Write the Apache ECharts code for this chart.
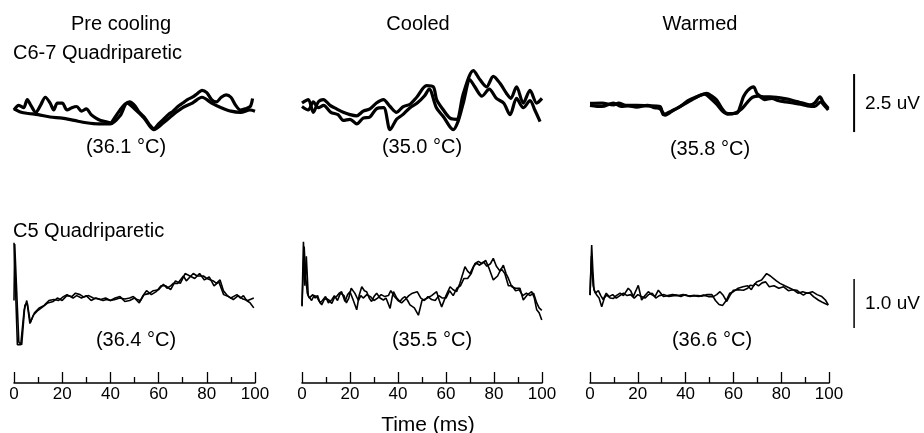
<!DOCTYPE html>
<html>
<head>
<meta charset="utf-8">
<script src="https://cdn.jsdelivr.net/npm/echarts@6/dist/echarts.min.js"></script>
<style>html,body{margin:0;padding:0;background:#fff}#c{width:924px;height:433px}</style>
</head>
<body>
<div id="c"></div>
<script>
// ---- text ----
const columnTitles = ['Pre cooling', 'Cooled', 'Warmed'];
const rowTitles = ['C6-7 Quadriparetic', 'C5 Quadriparetic'];
const tempsTop = ['(36.1 °C)', '(35.0 °C)', '(35.8 °C)'];
const tempsBottom = ['(36.4 °C)', '(35.5 °C)', '(36.6 °C)'];
const scaleLabels = ['2.5 uV', '1.0 uV'];
const scaleValues = [2.5, 1.0];
const timeLabel = 'Time (ms)';

// ---- traces: [time ms, amplitude uV] ----
const top1A = [[0,0.0],[2,0.2],[4,0.1],[5.5,0.45],[7,0.2],[9,-0.1],[11,0.2],[13,0.55],[15,0.3],[16.5,0.0],[18,0.3],[20,0.3],[22,0.0],[24,0.1],[26,0.15],[28,-0.05],[30,0.05],[32,-0.2],[34,-0.35],[36,-0.45],[38,-0.5],[40,-0.55],[42,-0.3],[44,0.0],[46,0.25],[48,0.35],[50,0.2],[52,-0.1],[54,-0.3],[56,-0.6],[58,-0.8],[60,-0.6],[62,-0.4],[64,-0.2],[66,-0.05],[68,0.15],[70,0.3],[72,0.45],[74,0.55],[76,0.7],[78,0.85],[80,0.75],[82,0.45],[84,0.35],[86,0.55],[88,0.65],[90,0.55],[92,0.2],[94,0.0],[96,0.05],[98,0.15],[99,0.5]];
const top1B = [[0,0.05],[3,-0.1],[6,-0.15],[10,-0.2],[15,-0.3],[20,-0.35],[25,-0.45],[30,-0.55],[35,-0.6],[40,-0.6],[44,-0.25],[47,0.3],[50,0.05],[54,-0.35],[58,-0.85],[62,-0.55],[66,-0.2],[70,0.1],[74,0.3],[78,0.55],[82,0.3],[86,0.1],[90,-0.05],[94,-0.1],[98,0.0],[100,-0.05]];
const top2A = [[0,0.3],[2.6,0.45],[4.7,-0.1],[6.8,0.35],[8.9,0.45],[11.7,0.2],[14.4,0.05],[17.2,-0.1],[20,-0.2],[22.8,-0.25],[25.5,-0.05],[28.3,0.05],[31,0.3],[33.9,0.45],[36.7,0.15],[39.4,-0.1],[42.2,0.15],[45,0.25],[47.8,0.55],[51.9,1.05],[54.7,1.0],[56.1,0.45],[58.9,0.0],[61.7,-0.35],[64.4,-0.4],[67.2,0.7],[71.4,1.7],[74.2,1.3],[76.9,1.0],[79.7,1.45],[82.5,1.15],[85.3,0.7],[87,0.5],[89.4,1.0],[92.2,0.3],[95,0.85],[97.8,0.3],[100,0.5]];
const top2B = [[0,0.15],[2.6,0.0],[4.7,0.35],[6.8,0.1],[9,0.2],[12,-0.1],[15,-0.2],[17.2,-0.45],[20,-0.4],[22.8,-0.6],[25.5,-0.35],[28.3,-0.3],[31,0.05],[34,0.1],[36.7,-0.85],[39.4,-0.4],[42,-0.2],[45,0.1],[48,0.3],[51,0.6],[53,0.9],[56,0.1],[59,-0.3],[63,-0.85],[65,-0.5],[67.2,0.3],[70,1.3],[72,1.0],[75,0.6],[78,0.9],[81,0.5],[84,0.3],[86.7,-0.2],[89.4,0.5],[92.2,0.1],[95,0.4],[97,0.0],[99.2,-0.5]];
const top3A = [[0,0.29],[5,0.3],[9.8,0.22],[12,0.3],[15,0.2],[19.5,0.2],[24,0.18],[29.3,0.15],[30.7,-0.2],[34,-0.05],[37.7,0.14],[41,0.4],[44.6,0.57],[48.8,0.72],[51,0.6],[53,0.43],[55,0.1],[57.2,-0.14],[59,-0.15],[61.4,-0.14],[63,0.2],[64.2,0.57],[66,0.85],[68.4,1.0],[70,0.7],[72.5,0.57],[75.3,0.57],[78,0.55],[80.9,0.5],[83.5,0.45],[86.5,0.36],[89,0.3],[92,0.22],[94,0.3],[96.2,0.57],[97.5,0.35],[99.7,0.07]];
const top3B = [[0,0.2],[5,0.15],[9.8,0.3],[13,0.15],[16,0.18],[19.5,0.12],[24,0.2],[27,0.1],[29.3,0.05],[31.5,-0.22],[35,0.0],[38.5,0.2],[42,0.4],[45.5,0.6],[48,0.68],[50.5,0.5],[53,0.25],[55.5,-0.05],[58,-0.18],[61,-0.12],[63.5,0.05],[66,0.35],[68,0.55],[70.5,0.6],[73,0.45],[76,0.5],[79,0.4],[82,0.35],[85,0.3],[88,0.25],[91,0.18],[94,0.15],[96.5,0.35],[98,0.2],[99.7,0.0]];

const bot1A = [[0,1.18],[0.6,1.18],[1.4,-0.9],[2.8,-0.9],[4.2,-0.2],[5.3,0.0],[6.6,-0.47],[8.0,-0.3],[10,-0.2],[12.2,-0.12],[14,-0.05],[16.3,-0.02],[18,0.05],[20,0.0],[21.9,0.1],[24,0.08],[25.5,0.15],[27.4,0.12],[29,0.07],[31,0.1],[32.9,0.05],[35,0.03],[37,0.0],[38.4,0.02],[40,0.0],[42,0.02],[43.9,0.05],[46,0.03],[48,0.05],[49.5,0.08],[51,0.02],[52.5,0.0],[54,0.12],[56,0.14],[57.8,0.2],[60,0.22],[62,0.33],[63.5,0.25],[65,0.3],[66.1,0.35],[68,0.35],[70.3,0.5],[71.5,0.4],[73,0.48],[74.4,0.55],[76,0.5],[78.6,0.5],[80,0.45],[82.7,0.4],[84,0.35],[85.5,0.42],[86.9,0.2],[88.5,0.1],[90,0.05],[91,0.08],[92.5,0.12],[94,0.05],[95.2,0.1],[96.5,0.0],[98,-0.05],[99.5,-0.15]];
const bot1B = [[0,0.0],[0.3,1.15],[1.0,1.15],[2.0,-0.85],[3.2,-0.9],[4.5,-0.1],[5.5,-0.05],[6.8,-0.45],[8.5,-0.25],[10.5,-0.15],[12.5,-0.1],[14.5,0.0],[16.5,0.02],[18.5,0.0],[20.5,0.08],[22,0.12],[24.5,0.05],[26,0.1],[28,0.05],[30,0.1],[32,0.0],[34,0.05],[36,0.02],[38,0.05],[40,0.0],[42,0.05],[44,0.08],[46,-0.02],[48,0.0],[50,0.05],[52,-0.05],[53.5,0.1],[55,0.2],[57,0.12],[59,0.18],[61,0.3],[63,0.3],[65,0.22],[67,0.4],[69,0.35],[71,0.55],[73,0.5],[75,0.45],[77,0.55],[79,0.42],[81,0.48],[83,0.3],[85,0.38],[87,0.12],[89,0.08],[91,0.02],[93,0.1],[95,0.03],[97,0.0],[99.5,0.05]];
const bot2A = [[0,-0.1],[0.6,1.2],[1.2,0.3],[1.8,0.9],[2.6,0.1],[4,0.0],[5,0.1],[6.1,0.08],[7,0.0],[8.2,-0.09],[9.3,0.02],[10.3,0.04],[11.4,0.0],[12.4,-0.06],[13.4,0.05],[14.4,0.08],[15.5,0.15],[16.5,0.18],[17.9,-0.02],[19,0.12],[20,0.18],[21.4,0.0],[22.8,-0.19],[23.8,0.1],[24.9,0.28],[26,0.2],[26.9,0.18],[28,0.05],[29,-0.02],[30,0.08],[31.1,0.15],[32.5,0.05],[33.9,0.01],[35,0.05],[36.7,-0.16],[37.5,0.05],[38.1,0.18],[39.5,0.05],[40.8,-0.02],[42,0.05],[42.9,0.08],[44,0.0],[45,-0.09],[46.8,-0.15],[48.5,-0.3],[50,0.0],[51.9,0.04],[54,0.1],[56.1,0.18],[57.2,0.0],[58.2,-0.13],[60,0.1],[61.7,0.28],[63,0.22],[64.4,0.18],[65.8,0.35],[67.9,0.69],[69,0.6],[70,0.55],[71.5,0.7],[72.8,0.76],[74,0.72],[75.6,0.79],[77,0.7],[78.5,0.75],[79.7,0.86],[81,0.7],[82.5,0.6],[83.9,0.72],[85,0.55],[86,0.45],[87.4,0.28],[89,0.25],[90.8,0.25],[92.2,0.01],[94,0.12],[95.7,0.18],[96.8,0.05],[97.8,-0.19],[98.8,-0.25],[99.9,-0.4]];
const bot2B = [[0,-0.12],[0.9,1.1],[1.5,0.5],[2.2,0.15],[3,0.05],[4.5,0.12],[5.5,0.05],[6.5,0.1],[7.5,-0.05],[8.5,0.0],[9.8,0.08],[11,-0.05],[12.5,0.02],[13.5,0.1],[14.8,0.0],[16,0.15],[17.5,0.1],[18.5,-0.05],[19.5,0.05],[20.5,0.25],[22,0.15],[23.5,0.0],[24.5,0.1],[25.5,0.05],[27,0.12],[28.5,0.08],[30,0.0],[31.5,0.05],[33,0.12],[34.5,0.08],[36,0.1],[37,0.2],[38.5,0.08],[40,0.0],[41.5,-0.05],[43,0.02],[44.5,0.1],[46,0.15],[48,0.18],[49.5,0.05],[51,0.0],[52.5,0.08],[54,0.02],[55.5,0.0],[57,0.1],[58.5,0.05],[60,0.05],[61.5,0.2],[63,0.1],[64.5,0.25],[66,0.3],[67.5,0.45],[69,0.45],[70.5,0.55],[72,0.75],[73.5,0.8],[75,0.75],[76.5,0.82],[78,0.65],[79.7,0.42],[81.5,0.5],[83,0.65],[84.5,0.55],[86,0.3],[87.5,0.3],[89,0.2],[90.5,0.22],[92,0.1],[93.5,0.15],[95,0.1],[96.5,0.15],[97.8,-0.05],[98.8,-0.15],[99.9,-0.2]];
const bot3A = [[0,0.11],[0.7,1.13],[1.2,0.6],[1.7,0.21],[2.8,0.11],[3.8,0.05],[4.9,-0.13],[6,0.05],[7,0.11],[8.5,0.05],[9.8,0.04],[11,0.1],[12.6,0.15],[14,0.1],[16,0.25],[17,0.2],[18.1,0.08],[19.2,0.2],[20.2,0.31],[21.6,0.01],[23,0.1],[24.4,0.18],[25.8,0.12],[27.2,0.08],[28.6,0.21],[30.7,0.08],[32.5,0.1],[34.5,0.12],[36.3,0.11],[38,0.08],[40,0.12],[41.8,0.08],[43.5,0.1],[45.5,0.08],[47.4,0.11],[49.5,0.08],[51.6,0.08],[53,0.12],[54.4,0.18],[55.8,0.1],[57.2,-0.02],[58.5,0.1],[60,0.21],[62,0.22],[64.2,0.21],[66,0.25],[67,0.31],[68.5,0.3],[69.7,0.38],[71.8,0.42],[73.9,0.55],[75.5,0.5],[76.7,0.45],[78,0.4],[79.5,0.35],[81.5,0.3],[83.7,0.25],[85,0.22],[86.5,0.21],[88,0.15],[89.3,0.11],[90.5,0.15],[92,0.15],[93.5,0.08],[95.5,0.01],[97,-0.03],[98.3,-0.06],[99.7,-0.09]];
const bot3B = [[0,0.11],[0.6,0.9],[1.3,0.3],[2.2,0.15],[3.5,0.2],[4.5,0.1],[5.5,0.02],[6.8,0.15],[8,0.08],[9.5,0.12],[11,0.05],[12.5,0.1],[14,0.15],[15.5,0.1],[17,0.12],[18.5,0.05],[20,0.12],[21.5,0.08],[23,0.05],[24.5,0.12],[26,0.15],[27.5,0.05],[29,0.1],[31,0.12],[33,0.08],[35,0.1],[37,0.1],[39,0.12],[41,0.09],[43,0.1],[45,0.1],[47,0.09],[49,0.12],[51,0.12],[52.5,0.0],[54,-0.08],[55.5,-0.1],[57,0.0],[58.5,0.15],[60,0.18],[62,0.25],[64,0.28],[66,0.3],[67.5,0.22],[69,0.35],[70.5,0.3],[72,0.36],[73.5,0.38],[75,0.28],[77,0.3],[79,0.25],[81,0.28],[83,0.2],[85,0.22],[87,0.15],[89,0.18],[91,0.15],[93,0.18],[95,0.12],[97,0.08],[98.5,0.01],[99.7,-0.09]];

const topTraces = [[top1A, top1B], [top2A, top2B], [top3A, top3B]];
const botTraces = [[bot1A, bot1B], [bot2A, bot2B], [bot3A, bot3B]];

// ---- layout ----
const FONT = '"Liberation Sans", Arial, sans-serif';
const panelLeft = [14, 302, 590];
const panelW = [241, 240, 239];
const topRow = {top: 52, height: 116, min: -2.5, max: 2.5};
const botRow = {top: 227, height: 147, min: -1.5, max: 1.5};
const scaleX = 110.5;
const scaleBase = [-0.95, -0.56];

const grids = [], xAxes = [], yAxes = [], series = [];
function addGrid(g, xmax, ymin, ymax, showX) {
  grids.push(g);
  const i = grids.length - 1;
  xAxes.push(showX ? {
    gridIndex: i, type: 'value', min: 0, max: 100, interval: 20,
    axisLine: {show: true, lineStyle: {color: '#000', width: 1.5}},
    axisTick: {show: true, inside: true, length: 11, lineStyle: {color: '#000', width: 1.3}},
    minorTick: {show: true, splitNumber: 2, length: 6, lineStyle: {color: '#000', width: 1.3}},
    axisLabel: {color: '#000', fontSize: 17, fontFamily: FONT, margin: 3},
    splitLine: {show: false}, minorSplitLine: {show: false}
  } : {gridIndex: i, type: 'value', min: 0, max: xmax, show: false, splitLine: {show: false}});
  yAxes.push({gridIndex: i, type: 'value', min: ymin, max: ymax, show: false, splitLine: {show: false}});
  return i;
}
for (let c = 0; c < 3; c++) {
  const xmax = c === 2 ? 120 : 100;
  const w = panelW[c] * xmax / 100;
  const gi = addGrid({left: panelLeft[c], top: topRow.top, width: w, height: topRow.height}, xmax, topRow.min, topRow.max, false);
  topTraces[c].forEach(d => series.push({type: 'line', xAxisIndex: gi, yAxisIndex: gi, data: d, showSymbol: false, symbol: 'none', smooth: 0.3,
    lineStyle: {color: '#000', width: 3.2}, z: 3}));
  if (c === 2) series.push({type: 'line', xAxisIndex: gi, yAxisIndex: gi, symbol: 'none',
    data: [[scaleX, scaleBase[0]], [scaleX, scaleBase[0] + scaleValues[0]]], lineStyle: {color: '#000', width: 2}});
}
for (let c = 0; c < 3; c++) {
  const xmax = c === 2 ? 120 : 100;
  const w = panelW[c] * xmax / 100;
  const gi = addGrid({left: panelLeft[c], top: botRow.top, width: w, height: botRow.height}, xmax, botRow.min, botRow.max, false);
  botTraces[c].forEach(d => series.push({type: 'line', xAxisIndex: gi, yAxisIndex: gi, data: d, showSymbol: false, symbol: 'none',
    lineStyle: {color: '#000', width: 1.6}, z: 3}));
  if (c === 2) series.push({type: 'line', xAxisIndex: gi, yAxisIndex: gi, symbol: 'none',
    data: [[scaleX, scaleBase[1]], [scaleX, scaleBase[1] + scaleValues[1]]], lineStyle: {color: '#000', width: 1.5}});
}
for (let c = 0; c < 3; c++) {
  addGrid({left: panelLeft[c], top: 370, width: panelW[c], height: 13}, 100, 0, 1, true);
}

function txt(text, x, y, size, align) {
  return {type: 'text', x: x, y: y, silent: true,
    style: {text: text, fill: '#000', fontSize: size, fontFamily: FONT,
      align: align || 'center', verticalAlign: 'middle', textAlign: align || 'center', textVerticalAlign: 'middle'}};
}
const colCenters = [121, 418, 700];
const tempTopX = [126, 422, 710];
const tempTopY = [147, 147, 149];
const tempBotX = [136, 432, 712];
const graphics = [];
columnTitles.forEach((t, i) => graphics.push(txt(t, colCenters[i], 24, 20)));
graphics.push(txt(rowTitles[0], 13, 53, 20, 'left'));
graphics.push(txt(rowTitles[1], 13, 231, 20, 'left'));
tempsTop.forEach((t, i) => graphics.push(txt(t, tempTopX[i], tempTopY[i], 20)));
tempsBottom.forEach((t, i) => graphics.push(txt(t, tempBotX[i], 340, 20)));
graphics.push(txt(scaleLabels[0], 865, 104, 19, 'left'));
graphics.push(txt(scaleLabels[1], 865, 304, 19, 'left'));
graphics.push(txt(timeLabel, 428, 425, 21));

const chart = echarts.init(document.getElementById('c'), null, {renderer: 'canvas'});
chart.setOption({
  animation: false,
  backgroundColor: '#fff',
  grid: grids, xAxis: xAxes, yAxis: yAxes, series: series,
  graphic: graphics
});
</script>
</body>
</html>
